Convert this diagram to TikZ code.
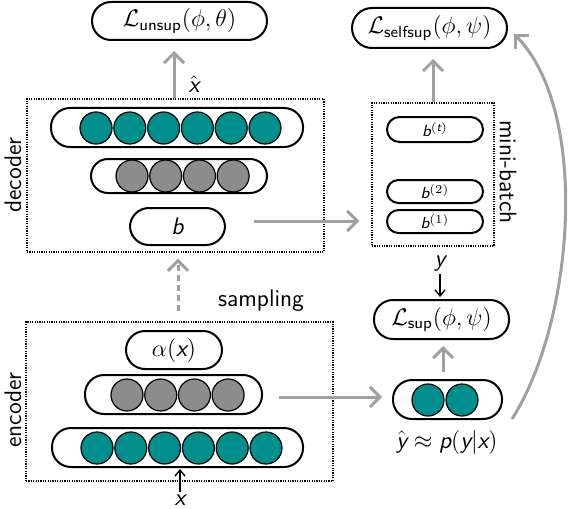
\documentclass[tikz,border=0pt]{standalone}
\renewcommand{\familydefault}{\sfdefault}
\DeclareMathAlphabet{\mathsfit}{TU}{lmss}{m}{sl}
\newcommand{\vx}{\mathsfit{x}}
\newcommand{\vy}{\mathsfit{y}}
\newcommand{\vb}{\mathsfit{b}}
\newcommand{\vp}{\mathsfit{p}}
\newcommand{\vt}{\mathsfit{t}}
\usetikzlibrary{arrows.meta}
\definecolor{tealu}{RGB}{0,143,140}
\definecolor{grayu}{RGB}{140,140,140}
\definecolor{arrowg}{RGB}{160,160,160}
\tikzset{
  layer/.style={draw, line width=1pt, rounded corners=#1, inner sep=0pt},
  layer/.default=9.5pt,
  unitT/.style={circle, draw, line width=0.6pt, fill=tealu, minimum size=16pt, inner sep=0pt},
  unitG/.style={circle, draw, line width=0.6pt, fill=grayu, minimum size=16pt, inner sep=0pt},
  grp/.style={draw, line width=0.65pt, dash pattern=on 0.6pt off 0.6pt, inner sep=0pt},
  garrow/.style={draw=arrowg, line width=1.5pt, -{Straight Barb[length=5pt,width=10pt,line width=1.5pt]}},
  karrow/.style={draw=black, line width=0.7pt, -{Straight Barb[length=3pt,width=5pt]}},
  lbl/.style={inner sep=1pt}
}
\begin{document}
\begin{tikzpicture}[x=0.5pt,y=-0.5pt,font=\large]
\useasboundingbox (0,0) rectangle (572,508);
% groups
\node[grp, minimum width=148.5pt, minimum height=76.5pt] (decbox) at (175.5,175.5) {};
\node[grp, minimum width=153.5pt, minimum height=79.5pt] (encbox) at (179.5,401.5) {};
\node[grp, minimum width=61pt, minimum height=71.5pt] (mbbox) at (433,174.5) {};
% losses
\node[layer, minimum width=87.5pt, minimum height=19pt] (Lunsup) at (179.5,21) {$\mathcal{L}_{\mathsf{unsup}}(\phi,\theta)$};
\node[layer=10pt, minimum width=77.5pt, minimum height=20pt] (Lself) at (429.5,28) {$\mathcal{L}_{\mathsf{selfsup}}(\phi,\psi)$};
\node[layer, minimum width=67.5pt, minimum height=19.5pt] (Lsup) at (441.5,319.5) {$\mathcal{L}_{\mathsf{sup}}(\phi,\psi)$};
% decoder
\node[layer, minimum width=126pt, minimum height=19.5pt] (dec6) at (177,127.5) {};
\foreach \i in {0,...,5} \node[unitT] (dec6c\i) at (96+33.8*\i,128) {};
\node[layer=8.5pt, minimum width=88pt, minimum height=17pt] (dec4) at (179,176) {};
\foreach \i in {0,...,3} \node[unitG] (dec4c\i) at (132+33.7*\i,176) {};
\node[layer, minimum width=47.5pt, minimum height=18.5pt] (decb) at (177.5,226.5) {$\vb$};
% mini-batch
\node[layer=6.25pt, minimum width=48pt, minimum height=12.5pt, font=\footnotesize] (bt) at (435,129.5) {$\vb^{(\vt)}$};
\node[layer=5.75pt, minimum width=48pt, minimum height=11.5pt, font=\footnotesize] (b2) at (435,191.5) {$\vb^{(2)}$};
\node[layer=5.75pt, minimum width=48pt, minimum height=11.5pt, font=\footnotesize] (b1) at (435,221.5) {$\vb^{(1)}$};
% encoder
\node[layer, minimum width=48pt, minimum height=19pt] (alpha) at (174,350) {$\alpha(\vx)$};
\node[layer, minimum width=88.5pt, minimum height=19.5pt] (enc4) at (173.5,394.5) {};
\foreach \i in {0,...,3} \node[unitG] (enc4c\i) at (127+33.7*\i,395) {};
\node[layer, minimum width=125.5pt, minimum height=19.5pt] (enc6) at (177.5,447.5) {};
\foreach \i in {0,...,5} \node[unitT] (enc6c\i) at (97+33.8*\i,448) {};
% prediction
\node[layer, minimum width=54.5pt, minimum height=19.5pt] (yhat) at (447.5,399.5) {};
\node[unitT] (yc0) at (428,400) {};
\node[unitT] (yc1) at (462,400) {};
% labels
\node[lbl, rotate=90] (declbl) at (13,175) {decoder};
\node[lbl, rotate=90] (enclbl) at (13,410) {encoder};
\node[lbl, rotate=-90] (mblbl) at (508,172) {mini-batch};
\node[lbl] (samp) at (261,301) {sampling};
\node[lbl] (xhat) at (194,84) {$\hat{\vx}$};
\node[lbl] (ylbl) at (440,264) {$\vy$};
\node[lbl] (predlbl) at (447,442) {$\hat{\vy}\approx \vp(\vy|\vx)$};
\node[lbl] (xlbl) at (180,500) {$\vx$};
\coordinate (cstart) at (512,419);
% connectors
\draw[garrow] (decbox.north -| 174,0) -- (Lunsup.south -| 174,0) [shorten >=5pt];
\draw[garrow, shorten <=14pt, shorten >=6pt] (decb.east |- 0,221) -- (mbbox.west |- 0,221);
\draw[garrow, shorten >=5pt] (mbbox.north -| 433,0) -- (Lself.south -| 433,0);
\draw[karrow, shorten >=1pt] (ylbl.south) -- (Lsup.north -| ylbl.south);
\draw[garrow, shorten <=3.5pt, shorten >=3pt] (yhat.north -| 443,0) -- (Lsup.south -| 443,0);
\draw[garrow, shorten <=8pt, shorten >=5pt] (enc4.east |- 0,397) -- (yhat.west |- 0,397);
\draw[garrow, dashed, dash pattern=on 3pt off 2pt, shorten <=5pt, shorten >=3pt] (encbox.north -| 178,0) -- (decbox.south -| 178,0);
\draw[karrow, shorten >=0.5pt] (xlbl.north) -- (enc6.south -| xlbl.north);
\draw[garrow] (cstart) .. controls (575,320) and (590,110) .. (Lself.east) [shorten >=4pt];
\end{tikzpicture}
\end{document}
